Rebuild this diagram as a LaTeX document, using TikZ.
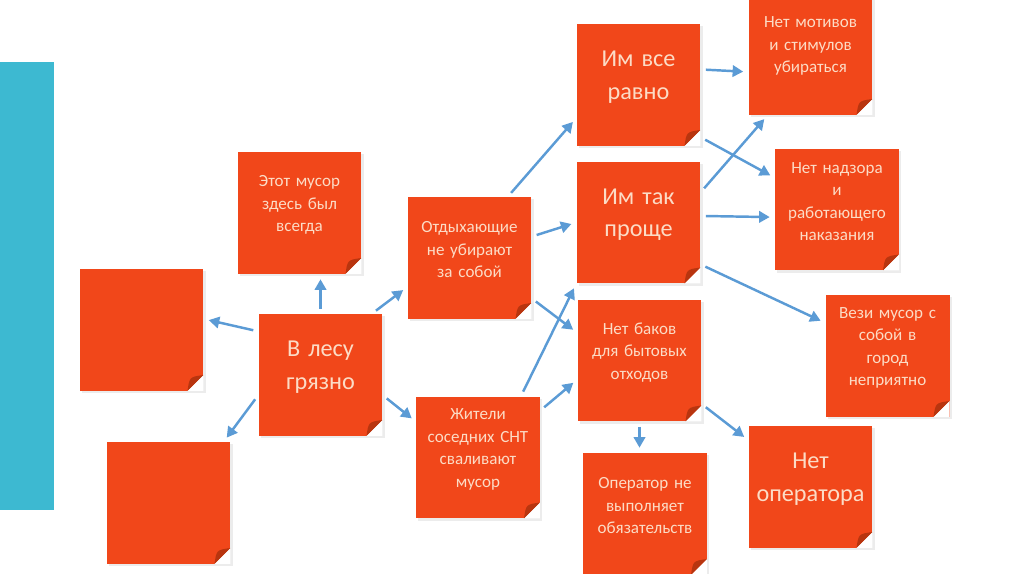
\documentclass[tikz,border=0pt]{standalone}
\usepackage{fontspec}
\setmainfont{Carlito}
\usetikzlibrary{arrows.meta,shadows}
\definecolor{noteorange}{HTML}{F1471A}
\definecolor{notefold}{HTML}{B8350F}
\definecolor{notetext}{HTML}{FCDCC6}
\definecolor{arrowblue}{HTML}{5B9BD5}
\definecolor{barteal}{HTML}{3DB9D1}
\begin{document}
\begin{tikzpicture}[x=0.02cm,y=-0.02cm,
  note/.style={fill=noteorange, text=notetext, align=center, text width=2.35cm,
    minimum width=2.48cm, minimum height=2.44cm, inner sep=0pt,
    font=\fontsize{9.7}{12.8}\selectfont,
    drop shadow={opacity=0.15, shadow xshift=1.2pt, shadow yshift=-1.2pt},
    execute at end node={\endgraf\vspace*{0.32cm}},
    path picture={
      \fill[white] ([xshift=-0.32cm]path picture bounding box.south east)
        -- (path picture bounding box.south east)
        -- ([yshift=0.32cm]path picture bounding box.south east) -- cycle;
      \fill[notefold] ([xshift=-0.32cm]path picture bounding box.south east)
        -- ([yshift=0.32cm]path picture bounding box.south east)
        .. controls ([xshift=-0.28cm,yshift=0.28cm]path picture bounding box.south east)
        .. ([xshift=-0.32cm]path picture bounding box.south east) -- cycle;
    }},
  bignote/.style={note, font=\fontsize{13.8}{18.5}\selectfont},
  arr/.style={draw=arrowblue, line width=1.4pt, -{Triangle[length=6pt,width=6.5pt]},
    shorten <=0.1cm, shorten >=0.1cm}]
\useasboundingbox (0,0) rectangle (1024,574);
\clip (0,0) rectangle (1024,574);
\fill[barteal] (0,62) rectangle (54,510);
\node[note] (blankA) at (141.5,330) {};
\node[note] (blankB) at (168.5,503) {};
\node[note] (always) at (299.5,213) {Этот мусор\\здесь был\\всегда};
\node[bignote] (dirty) at (320.5,375) {В лесу\\грязно};
\node[note] (tourists) at (469.5,258) {Отдыхающие\\не убирают\\за собой};
\node[note] (locals) at (478,457.5) {Жители\\соседних СНТ\\сваливают\\мусор};
\node[bignote] (careless) at (638.5,85) {Им все\\равно};
\node[bignote] (easier) at (638.5,222.5) {Им так\\проще};
\node[note] (motives) at (810.5,54) {Нет мотивов\\и стимулов\\убираться};
\node[note] (control) at (837,209.5) {Нет надзора\\и\\работающего\\наказания};
\node[note] (bins) at (639.5,360.5) {Нет баков\\для бытовых\\отходов};
\node[note] (carry) at (887.5,356) {Вези мусор с\\собой в\\город\\неприятно};
\node[note] (operbad) at (645,514) {Оператор не\\выполняет\\обязательств};
\node[bignote] (nooper) at (810.5,487) {Нет\\оператора};
\draw[arr] (dirty.north) -- (dirty.north |- always.south);
\draw[arr] (dirty.145) -- (blankA.10);
\draw[arr] (dirty.198) -- (blankB.48);
\draw[arr] (dirty.50) -- (tourists.205);
\draw[arr] (dirty.-18) -- (locals.150);
\draw[arr] (tourists.58) -- (careless.208);
\draw[arr] (tourists.19) -- (easier.west);
\draw[arr] (tourists.-33) -- (bins.156);
\draw[arr] (locals.55) -- (easier.south west);
\draw[arr] (locals.37) -- (bins.197);
\draw[arr] (careless.14) -- (motives.196);
\draw[arr] (careless.-40) -- (control.153);
\draw[arr] (easier.26) -- (motives.235);
\draw[arr] (easier.6) -- (control.187);
\draw[arr] (easier.-34) -- (carry.152);
\draw[arr] (bins.south) -- (bins.south |- operbad.north);
\draw[arr] (bins.-35) -- (nooper.143);
\end{tikzpicture}
\end{document}
